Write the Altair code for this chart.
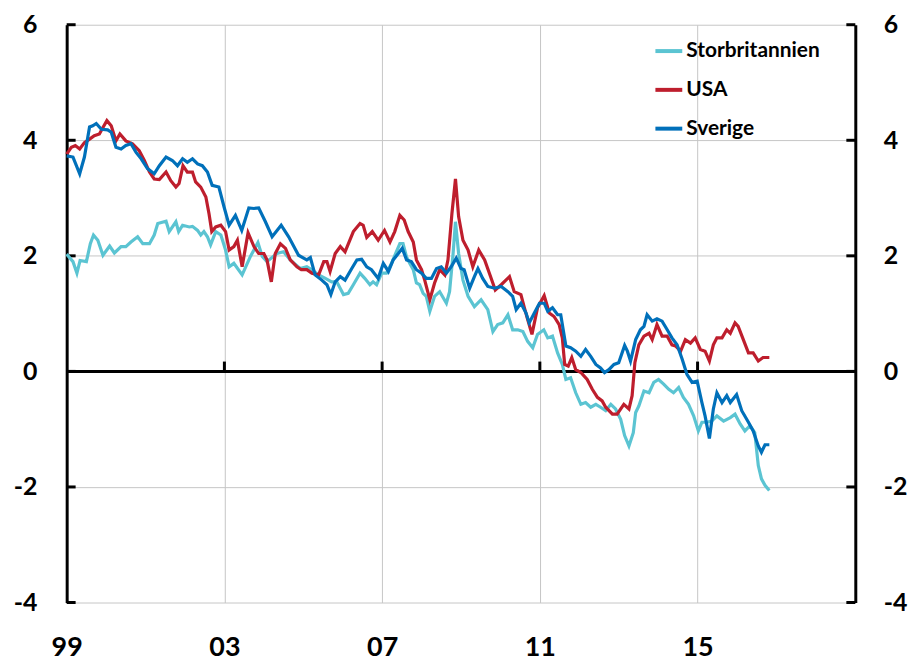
import altair as alt
import pandas as pd

series_names = ["Storbritannien", "USA", "Sverige"]
series_colors = ["#5BC4D2", "#BE1E2D", "#0070BA"]

uk_year = [1999.00, 1999.16, 1999.26, 1999.34, 1999.50, 1999.60, 1999.68, 1999.79, 1999.92, 2000.09,
           2000.21, 2000.38, 2000.50, 2000.63, 2000.80, 2000.93, 2001.10, 2001.22, 2001.31, 2001.52,
           2001.60, 2001.77, 2001.84, 2001.94, 2002.11, 2002.19, 2002.32, 2002.40, 2002.48, 2002.57,
           2002.65, 2002.78, 2002.91, 2003.03, 2003.12, 2003.24, 2003.45, 2003.66, 2003.85, 2003.96,
           2004.08, 2004.33, 2004.50, 2004.67, 2004.92, 2005.09, 2005.22, 2005.39, 2005.56, 2005.72,
           2005.85, 2006.02, 2006.14, 2006.27, 2006.44, 2006.56, 2006.69, 2006.77, 2006.86, 2006.99,
           2007.11, 2007.24, 2007.36, 2007.45, 2007.53, 2007.62, 2007.70, 2007.79, 2007.87, 2007.95,
           2008.04, 2008.12, 2008.21, 2008.33, 2008.46, 2008.63, 2008.71, 2008.80, 2008.86, 2008.94,
           2009.05, 2009.18, 2009.34, 2009.51, 2009.68, 2009.81, 2009.93, 2010.06, 2010.19, 2010.31,
           2010.44, 2010.57, 2010.69, 2010.82, 2010.94, 2011.10, 2011.20, 2011.32, 2011.45, 2011.57,
           2011.66, 2011.78, 2011.91, 2012.04, 2012.16, 2012.29, 2012.42, 2012.54, 2012.67, 2012.80,
           2012.92, 2013.05, 2013.15, 2013.26, 2013.37, 2013.43, 2013.51, 2013.64, 2013.77, 2013.89,
           2014.01, 2014.14, 2014.27, 2014.39, 2014.52, 2014.64, 2014.77, 2014.90, 2015.02, 2015.11,
           2015.23, 2015.36, 2015.49, 2015.66, 2015.83, 2015.95, 2016.08, 2016.20, 2016.33, 2016.45,
           2016.54, 2016.62, 2016.71, 2016.82]
uk_val = [2.03, 1.90, 1.70, 1.92, 1.90, 2.21, 2.36, 2.27, 2.01, 2.17,
          2.05, 2.16, 2.16, 2.24, 2.33, 2.21, 2.21, 2.36, 2.56, 2.60,
          2.42, 2.59, 2.42, 2.53, 2.50, 2.51, 2.44, 2.36, 2.42, 2.33,
          2.19, 2.42, 2.36, 2.10, 1.81, 1.87, 1.67, 1.99, 2.23, 1.99,
          1.90, 2.04, 2.07, 1.93, 1.78, 1.81, 1.76, 1.67, 1.61, 1.55,
          1.55, 1.33, 1.35, 1.50, 1.70, 1.61, 1.50, 1.55, 1.50, 1.70,
          1.70, 1.87, 2.07, 2.21, 2.21, 1.98, 1.87, 1.76, 1.53, 1.50,
          1.35, 1.30, 1.04, 1.30, 1.38, 1.18, 1.38, 2.04, 2.59, 2.04,
          1.58, 1.30, 1.12, 1.24, 1.07, 0.69, 0.81, 0.84, 0.98, 0.72,
          0.72, 0.69, 0.52, 0.41, 0.64, 0.72, 0.58, 0.61, 0.32, 0.12,
          -0.14, -0.11, -0.37, -0.57, -0.54, -0.62, -0.57, -0.62, -0.68, -0.57,
          -0.65, -0.83, -1.11, -1.29, -1.06, -0.71, -0.60, -0.34, -0.37, -0.19,
          -0.14, -0.22, -0.31, -0.37, -0.28, -0.45, -0.57, -0.77, -1.03, -0.88,
          -0.88, -0.86, -0.77, -0.86, -0.80, -0.74, -0.91, -1.03, -0.94, -1.06,
          -1.63, -1.86, -1.97, -2.06]

usa_year = [1999.00, 1999.12, 1999.22, 1999.33, 1999.45, 1999.58, 1999.70, 1999.83, 1999.92, 2000.02,
            2000.13, 2000.25, 2000.35, 2000.50, 2000.67, 2000.84, 2000.97, 2001.10, 2001.22, 2001.35,
            2001.52, 2001.64, 2001.77, 2001.85, 2001.95, 2002.06, 2002.19, 2002.27, 2002.40, 2002.53,
            2002.61, 2002.68, 2002.78, 2002.91, 2003.03, 2003.12, 2003.24, 2003.33, 2003.45, 2003.60,
            2003.75, 2003.87, 2004.00, 2004.08, 2004.19, 2004.29, 2004.42, 2004.55, 2004.67, 2004.84,
            2004.95, 2005.09, 2005.22, 2005.39, 2005.52, 2005.60, 2005.68, 2005.81, 2005.94, 2006.06,
            2006.27, 2006.44, 2006.52, 2006.61, 2006.75, 2006.90, 2007.06, 2007.20, 2007.32, 2007.45,
            2007.56, 2007.66, 2007.79, 2007.87, 2008.00, 2008.08, 2008.21, 2008.33, 2008.46, 2008.59,
            2008.67, 2008.77, 2008.86, 2008.94, 2009.05, 2009.18, 2009.30, 2009.45, 2009.60, 2009.72,
            2009.87, 2010.02, 2010.23, 2010.35, 2010.52, 2010.60, 2010.69, 2010.80, 2010.94, 2011.11,
            2011.24, 2011.36, 2011.49, 2011.57, 2011.63, 2011.72, 2011.81, 2011.91, 2012.04, 2012.20,
            2012.33, 2012.46, 2012.58, 2012.67, 2012.84, 2012.96, 2013.13, 2013.26, 2013.34, 2013.41,
            2013.51, 2013.64, 2013.77, 2013.85, 2013.97, 2014.10, 2014.23, 2014.35, 2014.44, 2014.57,
            2014.69, 2014.82, 2014.94, 2015.07, 2015.19, 2015.30, 2015.40, 2015.49, 2015.62, 2015.74,
            2015.83, 2015.95, 2016.03, 2016.16, 2016.29, 2016.41, 2016.54, 2016.66, 2016.82]
usa_val = [3.76, 3.88, 3.91, 3.85, 3.96, 4.02, 4.08, 4.11, 4.22, 4.34,
           4.25, 3.99, 4.11, 3.99, 3.94, 3.82, 3.65, 3.45, 3.33, 3.32,
           3.45, 3.30, 3.19, 3.25, 3.56, 3.45, 3.45, 3.28, 3.19, 3.02,
           2.73, 2.42, 2.50, 2.53, 2.42, 2.10, 2.16, 2.27, 1.81, 2.40,
           2.16, 2.04, 2.04, 1.93, 1.55, 2.04, 2.21, 2.13, 1.93, 1.81,
           1.76, 1.76, 1.70, 1.67, 1.90, 1.90, 1.73, 2.04, 2.16, 2.07,
           2.42, 2.56, 2.53, 2.32, 2.42, 2.27, 2.44, 2.24, 2.42, 2.70,
           2.62, 2.42, 2.24, 1.93, 1.76, 1.58, 1.24, 1.53, 1.76, 1.67,
           1.93, 2.73, 3.33, 2.68, 2.27, 2.10, 1.81, 2.10, 1.93, 1.70,
           1.41, 1.50, 1.64, 1.38, 1.33, 1.12, 0.90, 0.64, 1.10, 1.31,
           1.01, 0.95, 0.81, 0.58, 0.12, 0.09, 0.24, 0.03, -0.02, -0.14,
           -0.31, -0.45, -0.51, -0.62, -0.74, -0.74, -0.57, -0.65, -0.42, 0.15,
           0.46, 0.61, 0.66, 0.55, 0.81, 0.61, 0.61, 0.46, 0.44, 0.35,
           0.55, 0.49, 0.58, 0.38, 0.35, 0.18, 0.46, 0.58, 0.58, 0.72,
           0.66, 0.84, 0.78, 0.55, 0.32, 0.32, 0.18, 0.24, 0.24]

se_year = [1999.00, 1999.16, 1999.33, 1999.45, 1999.58, 1999.66, 1999.75, 1999.88, 2000.04, 2000.13,
           2000.25, 2000.38, 2000.50, 2000.63, 2000.76, 2000.89, 2001.05, 2001.22, 2001.35, 2001.52,
           2001.68, 2001.81, 2001.94, 2002.06, 2002.19, 2002.32, 2002.44, 2002.57, 2002.69, 2002.86,
           2002.99, 2003.12, 2003.28, 2003.44, 2003.62, 2003.75, 2003.87, 2004.04, 2004.21, 2004.44,
           2004.63, 2004.88, 2005.09, 2005.18, 2005.30, 2005.47, 2005.60, 2005.70, 2005.81, 2005.94,
           2006.06, 2006.23, 2006.36, 2006.48, 2006.61, 2006.73, 2006.90, 2007.03, 2007.16, 2007.28,
           2007.41, 2007.51, 2007.62, 2007.74, 2007.87, 2008.00, 2008.12, 2008.25, 2008.38, 2008.50,
           2008.63, 2008.75, 2008.88, 2009.00, 2009.08, 2009.22, 2009.34, 2009.43, 2009.55, 2009.68,
           2009.85, 2010.02, 2010.19, 2010.31, 2010.40, 2010.52, 2010.65, 2010.73, 2010.86, 2010.99,
           2011.11, 2011.20, 2011.32, 2011.45, 2011.53, 2011.66, 2011.78, 2011.91, 2012.04, 2012.16,
           2012.29, 2012.42, 2012.54, 2012.64, 2012.75, 2012.88, 2013.00, 2013.15, 2013.22, 2013.30,
           2013.43, 2013.55, 2013.64, 2013.72, 2013.85, 2013.97, 2014.10, 2014.23, 2014.35, 2014.48,
           2014.61, 2014.73, 2014.86, 2014.99, 2015.11, 2015.19, 2015.30, 2015.40, 2015.49, 2015.62,
           2015.74, 2015.83, 2015.99, 2016.12, 2016.29, 2016.41, 2016.54, 2016.62, 2016.71, 2016.82]
se_val = [3.73, 3.71, 3.42, 3.71, 4.23, 4.25, 4.29, 4.19, 4.18, 4.14,
          3.88, 3.85, 3.91, 3.94, 3.79, 3.68, 3.51, 3.42, 3.56, 3.71,
          3.65, 3.56, 3.68, 3.62, 3.68, 3.59, 3.56, 3.45, 3.22, 3.19,
          2.85, 2.53, 2.70, 2.44, 2.83, 2.82, 2.83, 2.59, 2.33, 2.53,
          2.33, 2.01, 1.93, 1.97, 1.67, 1.58, 1.50, 1.33, 1.55, 1.64,
          1.58, 1.78, 1.93, 1.94, 1.81, 1.76, 1.61, 1.87, 1.73, 1.93,
          2.04, 2.13, 1.93, 1.90, 1.76, 1.70, 1.61, 1.61, 1.78, 1.81,
          1.70, 1.81, 1.96, 1.78, 1.76, 1.44, 1.64, 1.78, 1.61, 1.47,
          1.44, 1.47, 1.38, 1.30, 1.07, 1.18, 1.01, 0.84, 1.01, 1.18,
          1.18, 1.04, 1.10, 0.98, 0.98, 0.44, 0.41, 0.35, 0.26, 0.38,
          0.26, 0.12, 0.06, -0.02, 0.03, 0.12, 0.15, 0.45, 0.35, 0.18,
          0.55, 0.72, 0.78, 0.98, 0.87, 0.91, 0.87, 0.72, 0.58, 0.46,
          0.21, -0.05, -0.19, -0.17, -0.54, -0.77, -1.16, -0.65, -0.37, -0.54,
          -0.42, -0.54, -0.40, -0.68, -0.88, -1.03, -1.29, -1.40, -1.27, -1.27]

x_ticks = [1999, 2003, 2007, 2011, 2015]
x_inner_ticks = [2003, 2007, 2011, 2015]
y_ticks = [-4, -2, 0, 2, 4, 6]

rows = []
for name, ys, vs in [("Storbritannien", uk_year, uk_val), ("USA", usa_year, usa_val), ("Sverige", se_year, se_val)]:
    for yr, v in zip(ys, vs):
        rows.append({"year": yr, "value": v, "series": name})
df = pd.DataFrame(rows)

W, H = 793, 581
FONT = "Lato"
x_scale = alt.Scale(domain=[1999, 2019], nice=False, zero=False)
y_scale = alt.Scale(domain=[-4, 6], nice=False, zero=False)
GRID = "#C6C6C6"
Y_LABEL = "datum.value + ''"

x_axis = alt.Axis(values=x_ticks, labelExpr="substring(toString(datum.value), 2, 4)",
                  grid=True, gridColor=GRID, gridWidth=1, domain=False, ticks=False,
                  labelPadding=53, labelBaseline="alphabetic", title=None, labelFlush=False,
                  labelFontSize=27)

lines = alt.Chart(df).mark_line(strokeWidth=3.2).encode(
    x=alt.X("year:Q", scale=x_scale, axis=x_axis),
    y=alt.Y("value:Q", scale=y_scale,
            axis=alt.Axis(values=y_ticks, orient="left", domain=True, domainColor="black",
                          domainWidth=3, ticks=False, grid=True, gridColor=GRID, gridWidth=1,
                          labelPadding=30, title=None, labelExpr=Y_LABEL)),
    color=alt.Color("series:N", sort=series_names,
                    scale=alt.Scale(domain=series_names, range=series_colors),
                    legend=alt.Legend(orient="none", legendX=590, legendY=11, title=None,
                                      symbolType="stroke", symbolSize=729, symbolStrokeWidth=4,
                                      labelFont=FONT, labelFontSize=21, labelFontWeight="bold",
                                      labelColor="black", rowPadding=13, labelOffset=2,
                                      padding=0, labelLimit=400)),
)

zero_df = pd.DataFrame({"v": [0]})
zero_line = alt.Chart(zero_df).mark_rule(color="black", strokeWidth=3).encode(
    y=alt.Y("v:Q", scale=y_scale, axis=None)
)

xt_df = pd.DataFrame({"year": x_inner_ticks, "y0": [0] * len(x_inner_ticks), "y1": [0.17] * len(x_inner_ticks)})
x_inner = alt.Chart(xt_df).mark_rule(color="black", strokeWidth=3).encode(
    x=alt.X("year:Q", scale=x_scale, axis=x_axis),
    y=alt.Y("y0:Q", scale=y_scale, axis=None),
    y2="y1:Q",
)

yt_df = pd.DataFrame({"v": y_ticks})
left_ticks = alt.Chart(yt_df).mark_rule(color="black", strokeWidth=3).encode(
    y=alt.Y("v:Q", scale=y_scale, axis=None),
    x=alt.value(0), x2=alt.value(9),
)
right_ticks = alt.Chart(yt_df).mark_rule(color="black", strokeWidth=3).encode(
    y=alt.Y("v:Q", scale=y_scale,
            axis=alt.Axis(values=y_ticks, orient="right", domain=True, domainColor="black",
                          domainWidth=3, ticks=False, grid=False, labelPadding=28, title=None,
                          labelExpr=Y_LABEL)),
    x=alt.value(W - 9), x2=alt.value(W),
)

chart = alt.layer(zero_line, x_inner, left_ticks, right_ticks, lines).resolve_scale(
    y="independent"
).properties(
    width=W, height=H,
    autosize=alt.AutoSizeParams(type="none"),
    padding={"left": 59, "top": 15, "right": 54, "bottom": 58},
).configure_view(stroke=None).configure_axis(
    labelFont=FONT, labelFontSize=25, labelFontWeight="bold", labelColor="black"
)

chart.save("out.html", embed_options={"renderer": "svg", "actions": False})
